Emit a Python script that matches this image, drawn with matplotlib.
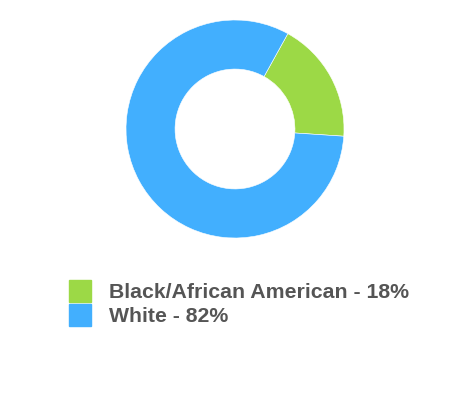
import matplotlib.pyplot as plt
from matplotlib.patches import Rectangle

# data
names = ['Black/African American', 'White']
shares = [18, 82]
colors = ['#9cd946', '#42affe']

W, H = 450, 400
fig = plt.figure(figsize=(W / 100, H / 100), dpi=100)

# donut, centre ~(235,129) px, radius ~109 px
cx, cy, r = 235, 129, 109
ax = fig.add_axes([(cx - r) / W, (H - cy - r) / H, 2 * r / W, 2 * r / H])
ax.pie(shares, colors=colors, startangle=61, counterclock=False, radius=1,
       wedgeprops=dict(width=0.45, edgecolor='white', linewidth=0.4))
ax.set_xlim(-1, 1)
ax.set_ylim(-1, 1)
ax.set_aspect('equal')
ax.axis('off')

# legend drawn by hand
x0, y0, step, box = 69, 280, 24, 22
for i, (n, s) in enumerate(zip(names, shares)):
    top = y0 + i * step
    fig.patches.append(Rectangle((x0 / W, (H - top - box) / H), box / W, box / H,
                                 transform=fig.transFigure, color=colors[i]))
    fig.text(109 / W, (H - top - box / 2 - 1) / H, f'{n} - {s}%', fontsize=15.3,
             fontweight='bold', color='#555555', family='Liberation Sans',
             va='center', ha='left')

fig.savefig('out.png', dpi=100)
